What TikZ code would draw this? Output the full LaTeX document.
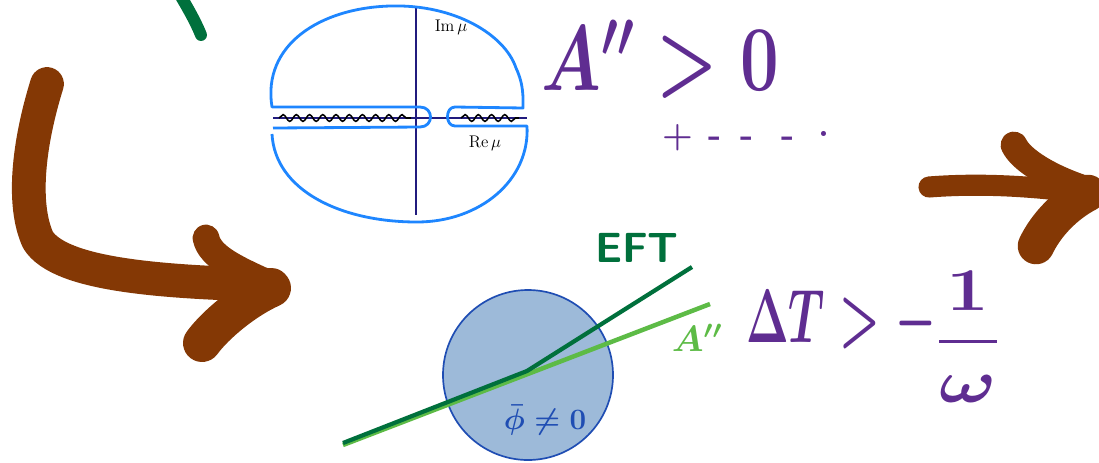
\RequirePackage{fix-cm}
\documentclass[tikz,border=0pt]{standalone}
\usepackage{amsmath}
\usepackage{tikz}
\usetikzlibrary{decorations.pathmorphing}
\definecolor{figbrown}{HTML}{843805}
\definecolor{figgreen}{HTML}{00703C}
\definecolor{figlime}{HTML}{5DBB46}
\definecolor{figblue}{HTML}{1E86FF}
\definecolor{fignavy}{HTML}{211B7E}
\definecolor{figpurple}{HTML}{5F2D91}
\definecolor{figsky}{HTML}{9DBAD9}
\definecolor{figdeep}{HTML}{1F4DB3}
\tikzset{
  every picture/.append style={font=\footnotesize},
  brush/.style={draw=figbrown, line width=#1, line cap=round, line join=round},
  brush/.default=24pt,
  wiggle/.style={draw=black, line width=1.1pt, decorate,
    decoration={snake, segment length=9.4pt, amplitude=2.4pt}},
  ink/.style={text=figpurple, inner sep=0pt}
}

\begin{document}
\begin{tikzpicture}[x=0.025cm,y=-0.025cm]
  \useasboundingbox (0,0) rectangle (1099,462);
  \clip (0,0) rectangle (1099,462);
  \draw[figgreen, line width=8.5pt, line cap=round] (176,-12) .. controls (186,5) and (195,20) .. (201,35);
  % arrows
  \draw[brush] (47,84) .. controls (28,145) and (22,205) .. (38,240) .. controls (60,275) and (160,282) .. (272,285);
  \draw[brush=19pt] (206,238) .. controls (210,258) and (240,270) .. (272,285);
  \draw[brush=27pt] (272,288) .. controls (245,300) and (215,325) .. (202,343);
  \draw[brush=15pt] (929,187) .. controls (980,183) and (1030,186) .. (1085,193);
  \draw[brush=19pt] (1014,145) .. controls (1021,160) and (1050,178) .. (1088,190);
  \draw[brush=26pt] (1088,193) .. controls (1065,205) and (1046,225) .. (1036,246);
  % mu plane
  \draw[fignavy, line width=1.1pt] (416,8) -- (416,215);
  \draw[fignavy, line width=1.1pt] (273,118) -- (527,118);
  \draw[wiggle] (279,118) -- (411,118);
  \draw[wiggle] (461,118) -- (519,118);
  \draw[figblue, line width=2pt, line join=round]
    (273,128) -- (420,127) .. controls (434,127) and (434,107) .. (420,107) -- (272,107)
    .. controls (262,45) and (320,8) .. (390,6) .. controls (455,4) and (505,35) .. (516,68)
    .. controls (524,85) and (523,98) .. (523,108) -- (455,107)
    .. controls (445,107) and (445,126) .. (455,126) -- (527,126)
    .. controls (530,180) and (480,222) .. (417,222) .. controls (340,222) and (275,190) .. (272,134);
  \node[font=\fontsize{12}{12}\selectfont, inner sep=0pt] (imlabel) at (451,27) {Im\,$\mu$};
  \node[font=\fontsize{12}{12}\selectfont, inner sep=0pt] (relabel) at (485,143) {Re\,$\mu$};
  \node[ink, font=\fontsize{66}{66}\selectfont\boldmath, xscale=0.74, anchor=base] (positivity) at (660,90) {$A''>0$};
  \node[ink, font=\fontsize{25}{25}\selectfont\bfseries] (dots) at (746,138)
    {+\hspace{11pt}-\hspace{13pt}-\hspace{20pt}-\hspace{17pt}\raisebox{0.3em}{.}};
  % EFT disk
  \filldraw[draw=figdeep, fill=figsky, line width=1.2pt] (528,375) circle[radius=85];
  \coordinate (low) at (343,443);
  \coordinate (kink) at (527,371);
  \coordinate (eftend) at (692,267);
  \coordinate (limeend) at (710,304);
  \draw[figlime, line width=3.2pt] (low) ++(0,2) -- (limeend);
  \draw[figgreen, line width=3pt, line join=round] (low) -- (kink) -- (eftend);
  \node[text=figgreen, font=\sffamily\bfseries\fontsize{30}{30}\selectfont, inner sep=0pt] (eft) at (637,248) {EFT};
  \node[text=figlime, font=\fontsize{26}{26}\selectfont\boldmath, inner sep=0pt] (alabel) at (697,338) {$A''$};
  \node[text=figdeep, font=\fontsize{21}{21}\selectfont\boldmath, inner sep=0pt] (vev) at (545,420) {$\bar\phi\neq0$};
  \node[ink, font=\fontsize{54}{54}\selectfont\boldmath, xscale=0.6, anchor=base west] (delay) at (746,342) {$\Delta T>-$};
  \node[ink, font=\fontsize{54}{54}\selectfont\boldmath, yscale=0.8] (ratio) at (968,337) {$\genfrac{}{}{2.6pt}{0}{1}{\omega}$};
\end{tikzpicture}
\end{document}
